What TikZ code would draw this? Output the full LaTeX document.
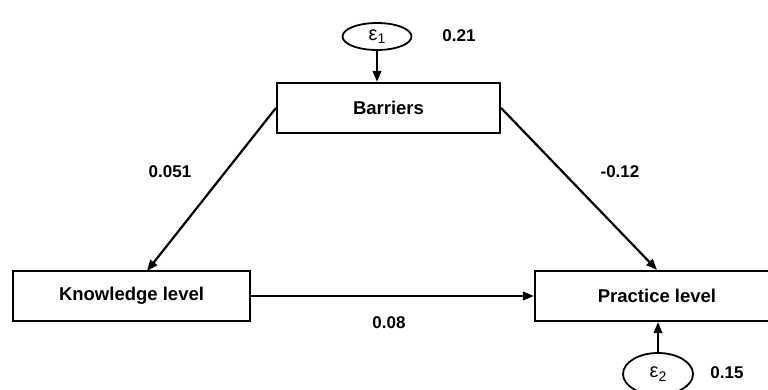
\documentclass[tikz,border=0pt]{standalone}
\usepackage{fontspec}
\setmainfont{Liberation Sans}
\usetikzlibrary{arrows.meta,shapes.geometric,calc}
\tikzset{
  varbox/.style={draw, line width=2.2pt, rectangle, inner sep=0pt, font=\fontsize{18.5}{20}\selectfont\bfseries},
  errnode/.style={draw, line width=1.8pt, ellipse, inner sep=0pt, font=\fontsize{20}{20}\selectfont},
  coef/.style={font=\fontsize{17}{18}\selectfont\bfseries, inner sep=0pt},
  path/.style={line width=2.2pt, -{Triangle[length=11pt,width=8.5pt]}}
}
\newcommand{\eps}[1]{ε\raisebox{-0.35ex}{\fontsize{14}{14}\selectfont #1}}
\begin{document}
\begin{tikzpicture}[x=1pt,y=-1pt]
\useasboundingbox (0,0) rectangle (768,390);
\clip (0,0) rectangle (768,390);
\node[varbox, minimum width=223pt, minimum height=50pt] (ba) at (388.5,108) {Barriers};
\node[varbox, minimum width=237pt, minimum height=50pt] (kn) at (131.5,296) {Knowledge level};
\node[varbox, minimum width=244pt, minimum height=50pt] (pr) at (657,296) {Practice level};
\node[errnode, minimum width=69pt, minimum height=27pt] (e1) at (377,36.5) {\eps{1}};
\node[errnode, minimum width=70pt, minimum height=42pt] (e2) at (658,374) {\eps{2}};
\coordinate (kntop) at (147,271);
\draw[path] (e1.south) -- (e1.south |- ba.north);
\draw[path] (e2.north) -- (e2.north |- pr.south);
\draw[path] (ba.west) -- (kntop);
\draw[path] (ba.east) -- (pr.north);
\draw[path] (kn.east) -- (pr.west);
\node[coef] (c1) at (459,36) {0.21};
\node[coef] (c2) at (170,172) {0.051};
\node[coef] (c3) at (620,172) {-0.12};
\node[coef] (c4) at (389,323) {0.08};
\node[coef] (c5) at (727,373) {0.15};
\end{tikzpicture}
\end{document}
